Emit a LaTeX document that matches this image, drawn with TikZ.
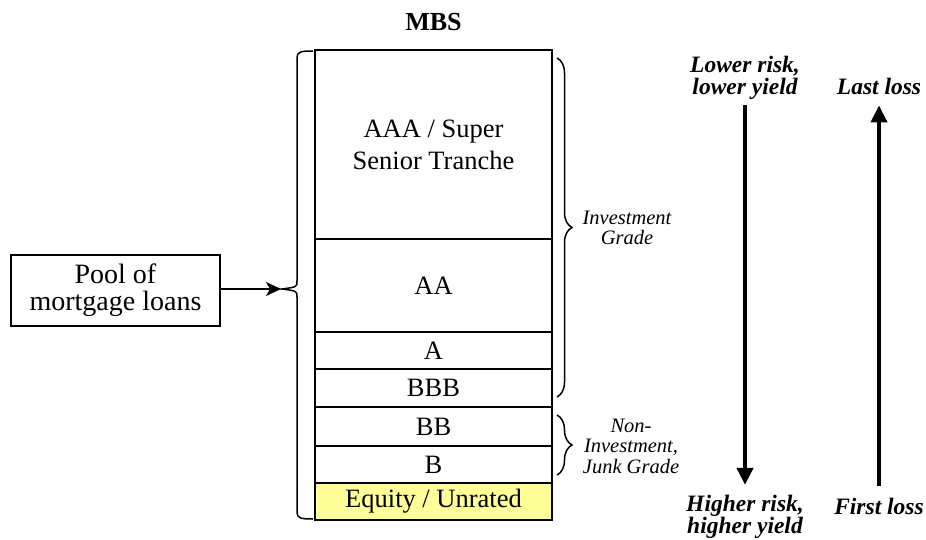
\documentclass[tikz,border=0pt]{standalone}
\usepackage{fontspec}
\setmainfont{Liberation Serif}
\usetikzlibrary{positioning,arrows.meta,decorations.pathreplacing}

\definecolor{equityyellow}{RGB}{255,255,153}

\tikzset{
  tranche/.style={draw, line width=2pt, minimum width=237pt, inner sep=0pt, outer sep=0pt,
    align=center, font=\fontsize{26.5}{32}\selectfont},
  grade/.style={inner sep=0pt, align=center, font=\itshape\fontsize{20.5}{20.5}\selectfont},
  risk/.style={inner sep=0pt, align=center, font=\bfseries\itshape\fontsize{23.5}{22.5}\selectfont},
  bracket/.style={decorate, decoration={brace, amplitude=#1}, line width=1.5pt},
  bigarrow/.style={line width=4pt, -{Triangle[length=17pt,width=16pt]}}
}

\begin{document}
\begin{tikzpicture}[x=1pt, y=-1pt]
   \useasboundingbox (0,0) rectangle (926,540);

   \node[font=\bfseries\fontsize{26}{30}\selectfont] (mbs) at (433.5,22) {MBS};

   % the tranches, top to bottom
   \node[tranche, minimum height=189pt] (aaa) at (433.5,144.5) {AAA / Super\\Senior Tranche};
   \node[tranche, minimum height=93pt, below=0pt of aaa] (aa) {AA};
   \node[tranche, minimum height=37pt, below=0pt of aa] (a) {A};
   \node[tranche, minimum height=38pt, below=0pt of a] (bbb) {BBB};
   \node[tranche, minimum height=39pt, below=0pt of bbb] (bb) {BB};
   \node[tranche, minimum height=37pt, below=0pt of bb] (b) {B};
   \node[tranche, minimum height=37pt, below=0pt of b, fill=equityyellow] (eq) {Equity / Unrated};

   % pool and left brace
   \node[draw, line width=2pt, minimum width=209pt, minimum height=71pt, align=center,
     font=\fontsize{28}{27}\selectfont] (pool) at (115.5,290.5) {Pool of\\mortgage loans};
   \coordinate (mbstip) at (282,289);
   \draw[line width=1.5pt] (313,51) .. controls (300,51) and (297,52) .. (297,58) -- (297,281)
     .. controls (297,287) .. (mbstip) .. controls (297,291) .. (297,297) -- (297,512)
     .. controls (297,518) and (300,519) .. (313,519);
   \draw[line width=1.5pt, -{Stealth[length=15pt,width=14pt,inset=4pt]}, shorten >=1pt]
     (pool.east |- mbstip) -- (mbstip);

   % right braces
   \draw[bracket=15pt] ([xshift=5pt,yshift=-8pt]aaa.north east) -- ([xshift=5pt,yshift=10pt]bbb.south east);
   \draw[bracket=15pt] ([xshift=5pt,yshift=-8pt]bb.north east) -- ([xshift=5pt,yshift=8pt]b.south east);
   \node[grade] (invgrade) at (627,228) {Investment\\Grade};
   \node[grade] (junkgrade) at (631,446) {Non-\\Investment,\\Junk Grade};

   % risk and loss arrows
   \node[risk] (lowrisk) at (745,78) {Lower risk,\\lower yield};
   \node[risk] (highrisk) at (745,517) {Higher risk,\\higher yield};
   \node[risk, anchor=base] (lastloss) at (879,95) {Last loss};
   \node[risk, anchor=base] (firstloss) at (879,514) {First loss};
   \draw[bigarrow, shorten <=5pt, shorten >=10pt] (lowrisk.south) -- (highrisk.north);
   \draw[bigarrow, shorten <=11pt, shorten >=10pt] (firstloss.north) -- (lastloss.south);
\end{tikzpicture}
\end{document}
